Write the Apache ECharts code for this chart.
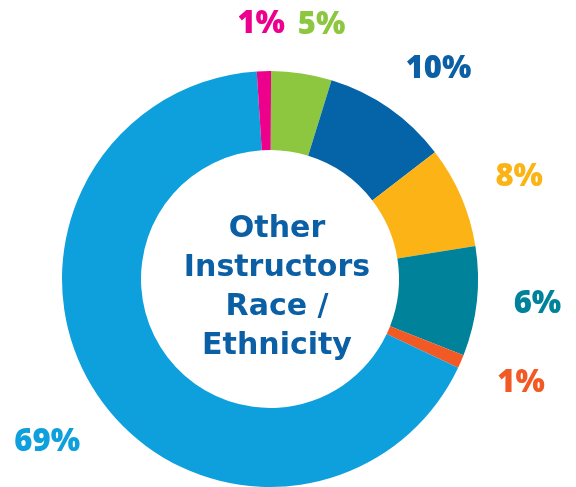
<!DOCTYPE html>
<html>
<head>
<meta charset="utf-8">
<script src="https://cdn.jsdelivr.net/npm/echarts@6/dist/echarts.min.js"></script>
<style>
  html, body { margin: 0; padding: 0; background: #fff; }
  #main { width: 576px; height: 487px; }
</style>
</head>
<body>
<div id="main"></div>
<script>
// slices clockwise from 12 o'clock
var sliceNames = ['Group A', 'Group B', 'Group C', 'Group D', 'Group E', 'Group F', 'Group G'];
var sliceValues = [4.7, 9.8, 7.9, 8.5, 1.05, 67, 1.1];
var sliceLabels = ['5%', '10%', '8%', '6%', '1%', '69%', '1%'];
var sliceColors = ['#8DC63F', '#0563A8', '#FBB316', '#00829B', '#F15A24', '#0DA0DC', '#EC008C'];
// small hand nudges for the outer labels
var labelNudge = [[11, 10], [16, 9], [4, 4], [2, -4], [6, -2], [-2, 13], [-1, 12]];

var chart = echarts.init(document.getElementById('main'));

var ringData = [];
var labelData = [];
for (var i = 0; i < sliceValues.length; i++) {
    ringData.push({
        name: sliceNames[i],
        value: sliceValues[i],
        itemStyle: { color: sliceColors[i] }
    });
    labelData.push({
        name: sliceNames[i],
        value: sliceValues[i],
        itemStyle: { color: 'rgba(0,0,0,0)' },
        label: { color: sliceColors[i], offset: labelNudge[i], formatter: sliceLabels[i] }
    });
}
labelData[1].label.color = '#0B5FA5';

var option = {
    animation: false,
    title: {
        text: 'Other\nInstructors\nRace /\nEthnicity',
        left: 272,
        top: 283,
        textAlign: 'center',
        textVerticalAlign: 'middle',
        textStyle: {
            color: '#0B5FA5',
            fontSize: 30,
            fontWeight: 'bold',
            fontFamily: 'DejaVu Sans',
            lineHeight: 39
        }
    },
    series: [
        {
            type: 'pie',
            center: [270, 279],
            radius: [129, 208],
            startAngle: 89.7,
            clockwise: true,
            silent: true,
            label: { show: false },
            labelLine: { show: false },
            data: ringData
        },
        {
            type: 'pie',
            center: [270, 279],
            radius: [244, 284],
            startAngle: 89.7,
            clockwise: true,
            silent: true,
            label: {
                show: true,
                position: 'inside',
                fontSize: 31,
                fontWeight: 800,
                fontFamily: 'Open Sans'
            },
            labelLine: { show: false },
            data: labelData
        }
    ]
};
chart.setOption(option);
</script>
</body>
</html>
